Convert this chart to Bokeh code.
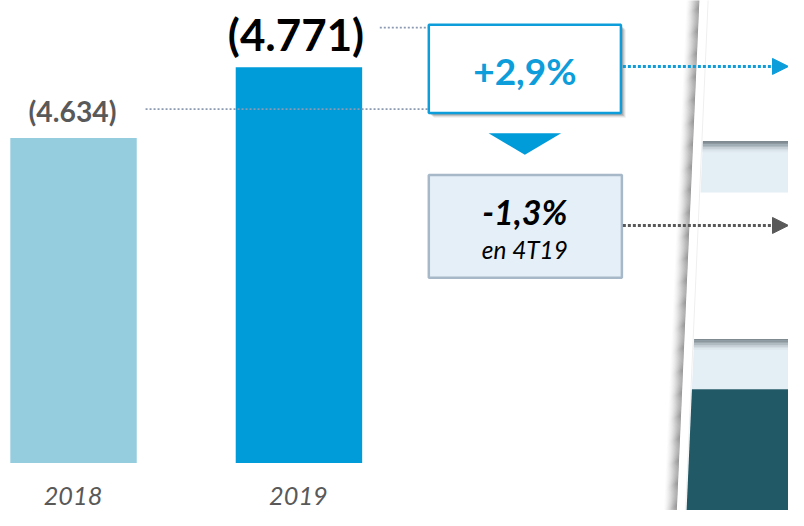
from bokeh.plotting import figure
from bokeh.models import Range1d, Arrow, NormalHead
from bokeh.core.properties import value
from bokeh.embed import file_html
from bokeh.resources import INLINE

# ---- data ----
years = ["2018", "2019"]
totals = [4634, 4771]
growth_label = ["+2,9%"]
quarter_label = ["-1,3%"]
quarter_sub = ["en 4T19"]

# ---- layout constants (reference 804x526 pixel coordinates) ----
W, H = 788, 510
RW, RH = 804, 526
S = 0.975               # font scale for the 788x510 canvas
base_val = 4005.0       # value at bar baseline
base_px = 477.0         # baseline pixel row
k = 0.53285             # reference pixels per unit
val_lo = base_val - (RH - base_px) / k
val_hi = base_val + base_px / k

FONT = value("Lato")

def fs(px):
    return f"{px * S:.1f}px"

p = figure(width=W, height=H, output_backend="svg", toolbar_location=None,
           x_range=Range1d(0, RW), y_range=Range1d(RH, 0),
           x_axis_type=None, y_axis_type=None, min_border=0)
p.extra_y_ranges = {"val": Range1d(val_lo, val_hi)}
p.outline_line_color = None
p.background_fill_color = "white"
p.border_fill_color = "white"

# ---- right page shadow / slanted page ----
def edge(y):
    return 713 - y * 23 / 526.0

grays = ["#FCFCFC", "#F7F7F7", "#F1F1F1", "#EAEAEA", "#E2E2E2", "#D9D9D9", "#CFCFCF",
         "#C5C5C5", "#BBBBBB", "#B1B1B1", "#A8A8A8", "#A0A0A0", "#999999"]
n = len(grays)
for i, c in enumerate(grays):
    dx0 = -n + i
    dx1 = dx0 + 1.05
    ya, yb = -20, 560
    p.patch([edge(ya) + dx0, edge(ya) + dx1, edge(yb) + dx1, edge(yb) + dx0],
            [ya, ya, yb, yb], fill_color=c, line_color=None)
# faint page edge
p.line([edge(-20) + 9, edge(560) + 9], [-20, 560], line_color="#EFEFEF", line_width=1)

def band(ytop, ybot, col, off=10):
    p.patch([edge(ytop) + off, 830, 830, edge(ybot) + off],
            [ytop, ytop, ybot, ybot], fill_color=col, line_color=None)

def grad_band(ytop, ybot):
    band(ytop, ybot, "#E4EEF5")
    steps = ["#7E8990", "#8C979E", "#9DA8AF", "#B0BAC1", "#C3CDD3", "#D3DDE3", "#DEE8EE"]
    for j, c in enumerate(steps):
        band(ytop + j * 1.6, ytop + (j + 1) * 1.6 + 0.3, c)

grad_band(145, 198)
grad_band(349, 401)
band(401, 560, "#215967")

# ---- bars ----
bar_x = [74.5, 304.5]
bar_colors = ["#95CDDF", "#009BD9"]
p.vbar(x=bar_x, width=129, top=totals, bottom=base_val, fill_color=bar_colors,
       line_color=None, y_range_name="val")

# value labels
lab = ["(" + f"{v:,}".replace(",", ".") + ")" for v in totals]
p.text(x=[bar_x[0] - 1], y=[totals[0]], text=[lab[0]], y_range_name="val", y_offset=-27,
       text_font=FONT, text_font_style="bold", text_font_size=fs(29),
       text_color="#595959", text_align="center", text_baseline="middle")
p.text(x=[bar_x[1] - 3], y=[totals[1]], text=[lab[1]], y_range_name="val", y_offset=-33,
       text_font=FONT, text_font_style="bold", text_font_size=fs(45),
       text_color="#000000", text_align="center", text_baseline="middle")

# year labels
p.text(x=[74, 304], y=[511, 511], text=years, text_font=FONT, text_font_style="italic",
       text_font_size=fs(26), text_color="#595959", text_align="center",
       text_baseline="middle")

# dotted leader lines
p.line([148, 437], [112, 112], line_color="#8A9BB3", line_width=1.6, line_dash="2 2")
p.line([387, 437], [28, 28], line_color="#8A9BB3", line_width=1.6, line_dash="2 2")

# ---- +2,9% box ----
for d, a in [(5, 0.08), (4, 0.12), (3, 0.16), (2, 0.2)]:
    p.quad(left=437 + d, right=633 + d, top=25 + d, bottom=116 + d,
           fill_color="#404040", fill_alpha=a, line_color=None)
p.quad(left=437, right=633, top=25, bottom=116, fill_color="white",
       line_color="#0D9DDA", line_width=2.5)
p.text(x=[535], y=[72], text=growth_label, text_font=FONT, text_font_style="bold",
       text_font_size=fs(38), text_color="#0D9DDA", text_align="center",
       text_baseline="middle")

# triangle
p.patch([498, 572, 535], [137, 137, 159], fill_color="#009BD9", line_color=None)

# ---- -1,3% box ----
p.quad(left=437, right=634, top=180, bottom=286, fill_color="#E4EFF7",
       line_color="#A7B9C9", line_width=2.5)
p.text(x=[535], y=[218], text=quarter_label, text_font=FONT, text_font_style="bold italic",
       text_font_size=fs(35), text_color="#000000", text_align="center",
       text_baseline="middle")
p.text(x=[535], y=[257], text=quarter_sub, text_font=FONT, text_font_style="italic",
       text_font_size=fs(25), text_color="#000000", text_align="center",
       text_baseline="middle")

# ---- arrows ----
p.add_layout(Arrow(end=NormalHead(size=16, fill_color="#0D9DDA", line_color="#0D9DDA"),
                   x_start=635, y_start=68, x_end=804, y_end=68,
                   line_color="#0D9DDA", line_width=3, line_dash="3 2"))
p.add_layout(Arrow(end=NormalHead(size=16, fill_color="#595959", line_color="#595959"),
                   x_start=635, y_start=232, x_end=804, y_end=232,
                   line_color="#595959", line_width=3, line_dash="3 2"))

open("out.html", "w").write(file_html(p, INLINE))
